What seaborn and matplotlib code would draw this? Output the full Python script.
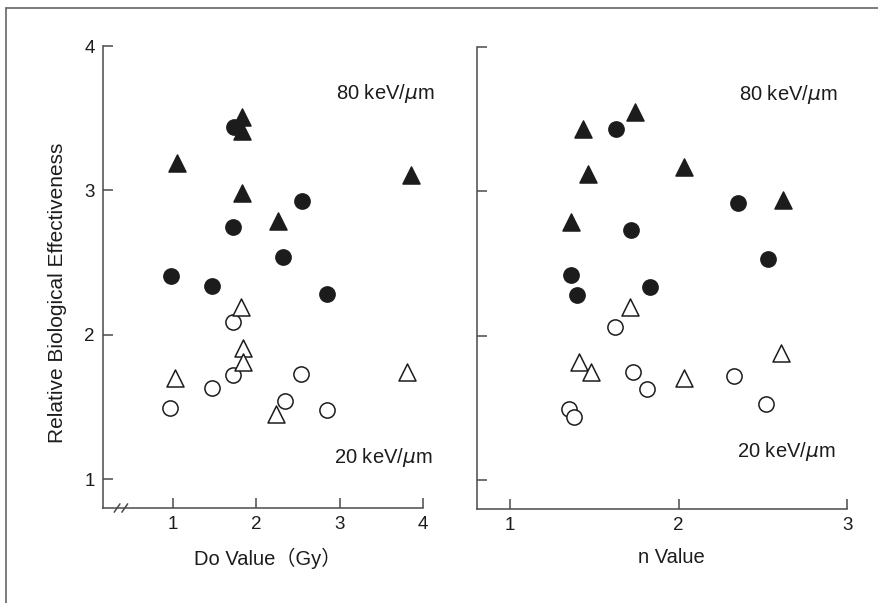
import matplotlib.pyplot as plt
import pandas as pd
import seaborn as sns
from matplotlib.lines import Line2D

# --- Configuration ---
OUTPUT_FILE = "out.png"
LET_LABELS = ["80 keV/$\\mu$m", "20 keV/$\\mu$m"]

# --- Left panel: RBE against Do value (Gy) ---
do_tri80_x = [1.04, 1.83, 1.83, 1.83, 2.26, 3.86]
do_tri80_y = [3.19, 3.51, 3.41, 2.98, 2.79, 3.11]
do_circ80_x = [1.73, 1.72, 2.55, 2.32, 0.97, 1.47, 2.85]
do_circ80_y = [3.44, 2.75, 2.93, 2.54, 2.41, 2.34, 2.28]
do_tri20_x = [1.81, 1.84, 1.84, 1.02, 2.23, 3.81]
do_tri20_y = [2.19, 1.91, 1.81, 1.70, 1.45, 1.74]
do_circ20_x = [1.72, 1.72, 1.46, 0.96, 2.34, 2.53, 2.85]
do_circ20_y = [2.09, 1.72, 1.63, 1.49, 1.54, 1.73, 1.48]

# --- Right panel: RBE against n value ---
n_tri80_x = [1.74, 1.43, 1.46, 2.03, 2.62, 1.36]
n_tri80_y = [3.55, 3.43, 3.12, 3.17, 2.94, 2.79]
n_circ80_x = [1.63, 1.72, 2.35, 2.53, 1.36, 1.40, 1.83]
n_circ80_y = [3.43, 2.73, 2.92, 2.53, 2.42, 2.28, 2.34]
n_tri20_x = [1.71, 1.41, 1.48, 2.03, 2.61]
n_tri20_y = [2.20, 1.82, 1.75, 1.71, 1.88]
n_circ20_x = [1.62, 1.73, 1.81, 2.33, 2.52, 1.35, 1.38]
n_circ20_y = [2.06, 1.75, 1.63, 1.72, 1.53, 1.49, 1.44]

Y_TICKS = [1, 2, 3, 4]
DO_TICKS = [1, 2, 3, 4]
N_TICKS = [1, 2, 3]

INK = "#1c1c1c"
AXIS_GRAY = "#4a4a4a"


def make_frame(tri80_x, tri80_y, circ80_x, circ80_y, tri20_x, tri20_y, circ20_x, circ20_y):
    parts = []
    for xs, ys, shape, let in [
        (tri80_x, tri80_y, "tri", 80),
        (circ80_x, circ80_y, "circ", 80),
        (tri20_x, tri20_y, "tri", 20),
        (circ20_x, circ20_y, "circ", 20),
    ]:
        parts.append(pd.DataFrame({"x": xs, "y": ys, "shape": shape, "let": let}))
    return pd.concat(parts, ignore_index=True)


def draw_points(ax, df):
    for (shape, let), grp in df.groupby(["shape", "let"]):
        marker = "^" if shape == "tri" else "o"
        size = 150 if shape == "tri" else 120
        face = INK if let == 80 else "white"
        sns.scatterplot(
            data=grp, x="x", y="y", ax=ax, marker=marker, s=size,
            color=face, edgecolor=INK, linewidth=1.1, legend=False, zorder=3,
        )


def style_axes(ax, xlim, xticks, show_ylabels):
    ax.set_xlim(*xlim)
    ax.set_ylim(0.8, 4.0)
    ax.set_xticks(xticks)
    ax.set_yticks(Y_TICKS)
    ax.set_xlabel("")
    ax.set_ylabel("")
    if not show_ylabels:
        ax.set_yticklabels([])
    sns.despine(ax=ax)
    for side in ["left", "bottom"]:
        ax.spines[side].set_color(AXIS_GRAY)
        ax.spines[side].set_linewidth(1.1)
    ax.tick_params(direction="in", length=7, width=1.1, color=AXIS_GRAY,
                   bottom=True, left=True,
                   labelsize=13.5, labelcolor=INK, pad=6)


sns.set_style("ticks")
plt.rcParams["font.family"] = ["Liberation Sans", "Noto Sans CJK JP", "DejaVu Sans"]

fig = plt.figure(figsize=(8.79, 6.03), dpi=100)
ax_do = fig.add_axes([0.1172, 0.1575, 0.364, 0.766])
ax_n = fig.add_axes([0.5427, 0.1559, 0.421, 0.766])

do_df = make_frame(do_tri80_x, do_tri80_y, do_circ80_x, do_circ80_y,
                   do_tri20_x, do_tri20_y, do_circ20_x, do_circ20_y)
n_df = make_frame(n_tri80_x, n_tri80_y, n_circ80_x, n_circ80_y,
                  n_tri20_x, n_tri20_y, n_circ20_x, n_circ20_y)

draw_points(ax_do, do_df)
draw_points(ax_n, n_df)

style_axes(ax_do, (0.157, 4.0), DO_TICKS, True)
style_axes(ax_n, (0.804, 3.0), N_TICKS, False)

# LET annotations
ax_do.text(3.55, 3.67, LET_LABELS[0], fontsize=14.5, color=INK, ha="center", va="center")
ax_do.text(3.52, 1.15, LET_LABELS[1], fontsize=14.5, color=INK, ha="center", va="center")
ax_n.text(2.65, 3.67, LET_LABELS[0], fontsize=14.5, color=INK, ha="center", va="center")
ax_n.text(2.64, 1.20, LET_LABELS[1], fontsize=14.5, color=INK, ha="center", va="center")

# axis labels
ax_do.set_ylabel("Relative Biological Effectiveness", fontsize=15, color=INK)
ax_do.yaxis.set_label_coords(-0.141, 0.465)
ax_do.yaxis.label.set_va("center")
ax_do.set_xlabel("Do Value（Gy）", fontsize=14.5, color=INK)
ax_do.xaxis.set_label_coords(0.515, -0.108)
ax_do.xaxis.label.set_va("center")
ax_n.set_xlabel("n Value", fontsize=14.5, color=INK)
ax_n.xaxis.set_label_coords(0.524, -0.106)
ax_n.xaxis.label.set_va("center")

# axis break mark on the Do axis
for bx in [0.044, 0.068]:
    ax_do.plot([bx - 0.009, bx + 0.009], [-0.009, 0.009], transform=ax_do.transAxes,
               color=AXIS_GRAY, linewidth=1.1, clip_on=False)

# page frame (top and left edge of the scanned box)
fig.add_artist(Line2D([0.0068, 1.0], [0.9867, 0.9867], color="#666666", linewidth=1.2))
fig.add_artist(Line2D([0.0068, 0.0068], [0.0, 0.9867], color="#666666", linewidth=1.2))

fig.savefig(OUTPUT_FILE, dpi=100)
